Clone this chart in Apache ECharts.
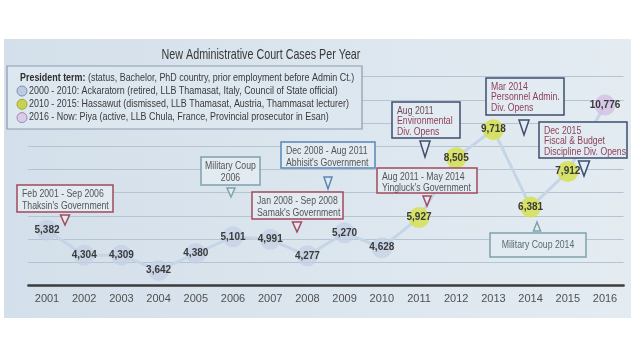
<!DOCTYPE html>
<html><head><meta charset="utf-8">
<script src="https://cdn.jsdelivr.net/npm/echarts@6/dist/echarts.min.js"></script>
<style>html,body{margin:0;padding:0;background:#fff}#c{width:640px;height:360px}</style>
</head><body><div id="c"></div>
<script>
var years = ['2001','2002','2003','2004','2005','2006','2007','2008','2009','2010','2011','2012','2013','2014','2015','2016'];
var cases = [5382,4304,4309,3642,4380,5101,4991,4277,5270,4628,5927,8505,9718,6381,7912,10776];
// president term of each year: 0 Ackaratorn, 1 Hassawut, 2 Piya
var term = [0,0,0,0,0,0,0,0,0,0,1,1,1,1,1,2];
var termColors = ['rgba(196,208,228,0.75)','rgba(214,224,80,0.85)','rgba(212,196,228,0.9)'];
var legendLines = [
  '2000 - 2010: Ackaratorn (retired, LLB Thamasat, Italy, Council of State official)',
  '2010 - 2015: Hassawut (dismissed, LLB Thamasat, Austria, Thammasat lecturer)',
  '2016 - Now: Piya (active, LLB Chula, France, Provincial prosecutor in Esan)'
];
var legendDot = ['#bccbe2','#c9d24a','#dccbe7'];
var legendDotStroke = ['#7f90b2','#9fa83a','#9c88b8'];

var chart = echarts.init(document.getElementById('c'), null, {renderer:'canvas'});
var AF = '"Liberation Sans",Arial,sans-serif';
var boxFill = '#e2ebf2';
var RED = '#a14a5c', BLUE = '#5a86b5', TEAL = '#7fa3aa', NAVY = '#3f4e6e', MAROON = '#8c3f57';

function txt(x,y,text,opts){
  opts = opts || {};
  var st = {text:text, x:0, y:0, textAlign:opts.align||'left', textVerticalAlign:opts.valign||'top',
    fill:opts.fill||'#3a3a3a', font:(opts.weight?opts.weight+' ':'')+(opts.size||10)+'px '+AF};
  if (opts.rich) st.rich = opts.rich;
  return {type:'text', z:opts.z||11, x:x, y:y, scaleX:opts.sx||0.87, scaleY:1, style:st};
}
function box(x,y,w,h,stroke,lines,colors,fs,lh,align){
  var els = [{type:'rect', z:10, shape:{x:x,y:y,width:w,height:h}, style:{fill:boxFill, stroke:stroke, lineWidth:1.5}}];
  for (var i=0;i<lines.length;i++){
    els.push(txt(align==='center'? x+w/2 : x+5, y+4+i*lh, lines[i], {align:align||'left', fill:colors[i]||colors[0], size:fs}));
  }
  return els;
}
function arrow(cx,top,w,h,stroke,up){
  var pts = up ? [[cx,top],[cx-w/2,top+h],[cx+w/2,top+h]] : [[cx-w/2,top],[cx+w/2,top],[cx,top+h]];
  return {type:'polygon', z:11, shape:{points:pts}, style:{fill:boxFill, stroke:stroke, lineWidth:1.5}};
}

var graphics = [];
graphics.push({type:'rect', z:-10, shape:{x:4,y:39,width:627,height:279}, style:{fill:new echarts.graphic.LinearGradient(0,0,1,0,[{offset:0,color:'#d3dfea'},{offset:1,color:'#e4ecf2'}])}});
graphics.push(txt(261,55,'New Administrative Court Cases Per Year',{align:'center', valign:'middle', size:14.5, sx:0.74, fill:'#383838', z:5}));
// legend box
graphics.push({type:'rect', z:10, shape:{x:7,y:66,width:355,height:63}, style:{fill:'#dde7f0', stroke:'#8a9bb0', lineWidth:1.2}});
graphics.push(txt(20,78,'{b|President term:} (status, Bachelor, PhD country, prior employment before Admin Ct.)',
  {valign:'middle', size:10.5, sx:0.85, rich:{b:{font:'bold 10.5px '+AF, fill:'#2e2e2e'}}}));
for (var i=0;i<3;i++){
  graphics.push({type:'circle', z:11, shape:{cx:22, cy:91+i*13.3, r:5}, style:{fill:legendDot[i], stroke:legendDotStroke[i], lineWidth:1}});
  graphics.push(txt(29,91+i*13.3,legendLines[i],{valign:'middle', size:10.5, sx:0.85}));
}
var G = '#555';
graphics = graphics.concat(box(17,185,96,27,RED,["Feb 2001 - Sep 2006","Thaksin's Government"],[G],10,12));
graphics.push(arrow(65,215,9,10,RED,false));
graphics = graphics.concat(box(201,157,59,28,TEAL,["Military Coup","2006"],[G],10,12,'center'));
graphics.push(arrow(231,188,8,9,TEAL,false));
graphics = graphics.concat(box(281,142,94,26,BLUE,["Dec 2008 - Aug 2011","Abhisit's Government"],[G],10,12));
graphics.push(arrow(328,177,8,12,BLUE,false));
graphics = graphics.concat(box(252,192,91,27,RED,["Jan 2008 - Sep 2008","Samak's Government"],[G],10,12));
graphics.push(arrow(297,222,9,10,RED,false));
graphics = graphics.concat(box(392,102,68,36,NAVY,["Aug 2011","Environmental","Div. Opens"],['#6a4a58',MAROON,MAROON],10,10.5));
graphics.push(arrow(425,141,10,16,NAVY,false));
graphics = graphics.concat(box(377,168,100,25,RED,["Aug 2011 - May 2014","Yingluck's Government"],[G],10,11.5));
graphics.push(arrow(427,196,8,10,RED,false));
graphics = graphics.concat(box(486,78,78,37,NAVY,["Mar 2014","Personnel Admin.","Div. Opens"],[MAROON],10,10.5));
graphics.push(arrow(524,120,10,15,NAVY,false));
graphics = graphics.concat(box(539,122,88,36,NAVY,["Dec 2015","Fiscal & Budget","Discipline Div. Opens"],[MAROON],10,10.5));
graphics.push(arrow(584,161,11,15,NAVY,false));
graphics = graphics.concat(box(490,233,96,24,TEAL,["Military Coup 2014"],['#5a6a72'],10,12,'center'));
graphics[graphics.length-1].y = 240;
graphics.push(arrow(537,222,7,9,TEAL,true));

var seriesData = cases.map(function(v,i){ return {value:v, itemStyle:{color:termColors[term[i]]}}; });

chart.setOption({
  animation:false,
  backgroundColor:'#ffffff',
  grid:{left:28.4, right:16.4, top:76.7, bottom:74.5},
  xAxis:{type:'category', data:years, boundaryGap:true,
    axisTick:{show:false},
    axisLine:{lineStyle:{color:'#3c3c3c', width:2.5}},
    axisLabel:{color:'#505050', fontSize:11, margin:8, fontFamily:AF}},
  yAxis:{type:'value', min:3000, max:12000, interval:1000,
    axisLine:{show:false}, axisTick:{show:false}, axisLabel:{show:false},
    splitLine:{lineStyle:{color:'#b5c4d2', width:1.2}}},
  series:[{type:'line', data:seriesData, symbol:'circle', symbolSize:21, z:3,
    lineStyle:{color:'#c5d5e5', width:3},
    label:{show:true, position:'inside', color:'#3a3a3a', fontWeight:'bold', fontSize:10, fontFamily:AF,
      formatter:function(p){ return p.value.toLocaleString('en-US'); }}}],
  graphic:graphics
});
</script></body></html>
